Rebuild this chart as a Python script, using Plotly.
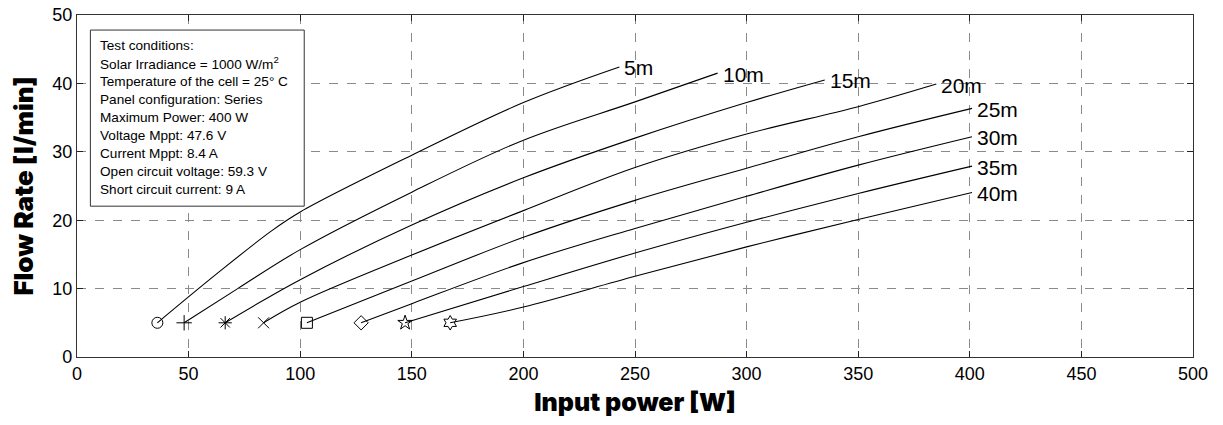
import plotly.graph_objects as go

# ---- data ----
heads = ["5m", "10m", "15m", "20m", "25m", "30m", "35m", "40m"]
symbols = ["circle-open", "cross-thin-open", "asterisk-open", "x-thin-open",
           "square-open", "diamond-open", "star-open", "hexagram-open"]

p_5m = [36, 62, 87, 100, 150, 200, 243]
q_5m = [5, 12.0, 18.4, 21.2, 29.5, 37.2, 42.4]
p_10m = [48, 72, 100, 150, 200, 250, 287]
q_10m = [5, 10, 15.7, 24.1, 31.7, 37.3, 41.5]
p_15m = [66.4, 100, 150, 200, 250, 300, 335]
q_15m = [5, 11.3, 19.3, 26.2, 32.0, 37.2, 40.5]
p_20m = [83.6, 100, 150, 200, 250, 300, 350, 385]
q_20m = [5, 8.0, 14.9, 21.4, 27.7, 32.6, 36.6, 39.9]
p_25m = [103, 150, 200, 250, 300, 350, 401]
q_25m = [5, 11.1, 17.5, 22.9, 27.6, 32.2, 36.35]
p_30m = [127.3, 150, 200, 250, 300, 350, 401]
q_30m = [5, 7.8, 13.8, 18.8, 23.5, 28.05, 32.2]
p_35m = [147, 200, 250, 300, 350, 401]
q_35m = [5, 10.3, 15.2, 19.7, 23.9, 27.9]
p_40m = [167.2, 200, 250, 300, 350, 401]
q_40m = [5, 7.3, 11.8, 16.1, 20.1, 24.05]

powers = [p_5m, p_10m, p_15m, p_20m, p_25m, p_30m, p_35m, p_40m]
flows = [q_5m, q_10m, q_15m, q_20m, q_25m, q_30m, q_35m, q_40m]

x_ticks = [0, 50, 100, 150, 200, 250, 300, 350, 400, 450, 500]
y_ticks = [0, 10, 20, 30, 40, 50]

conditions = [
    "Test conditions:",
    "Solar Irradiance = 1000 W/m<sup>2</sup>",
    "Temperature of the cell = 25° C",
    "Panel configuration: Series",
    "Maximum Power: 400 W",
    "Voltage Mppt: 47.6 V",
    "Current Mppt: 8.4 A",
    "Open circuit voltage: 59.3 V",
    "Short circuit current: 9 A",
]

fig = go.Figure()
for name, sym, xs, ys in zip(heads, symbols, powers, flows):
    fig.add_trace(go.Scatter(
        x=xs, y=ys, mode="lines", name=name,
        line=dict(color="black", width=1.1, shape="spline", smoothing=1.0),
        showlegend=False, hoverinfo="skip"))
    fig.add_trace(go.Scatter(
        x=[xs[0]], y=[ys[0]], mode="markers", name=name,
        marker=dict(symbol=sym, size=11, color="black",
                    line=dict(color="black", width=1)),
        showlegend=False))
    fig.add_annotation(x=xs[-1], y=ys[-1], text=name, showarrow=False,
                       xanchor="left", yanchor="middle", xshift=3, yshift=-1,
                       font=dict(family="Liberation Sans, Arial", size=21, color="black"))

# test-conditions box
fig.add_shape(type="rect", xref="x", yref="y", x0=6, x1=101.8, y0=22.05, y1=47.8,
              line=dict(color="#333333", width=1), fillcolor="white", layer="above")
line_step = 18 / 6.83
for i, t in enumerate(conditions):
    fig.add_annotation(x=9.2, y=47.8 - (15 / 6.83) - i * line_step, text=t,
                       showarrow=False, xanchor="left", yanchor="middle",
                       font=dict(family="Liberation Sans, Arial", size=13.6, color="black"))

axis_common = dict(
    showgrid=True, gridcolor="#8a8a8a", griddash="dash", gridwidth=1,
    showline=True, linecolor="#333333", linewidth=1.2, mirror="allticks",
    ticks="inside", ticklen=6, tickcolor="#222222", zeroline=False,
    automargin=False, ticklabeloverflow="allow",
    tickfont=dict(family="Liberation Sans, Arial", size=18, color="black"),
)

fig.update_layout(
    width=1215, height=417,
    margin=dict(l=69, r=30, t=7, b=68),
    paper_bgcolor="white", plot_bgcolor="white",
    xaxis=dict(range=[0, 500], tickvals=x_ticks, **axis_common,
               title=dict(text="Input power [W]", standoff=10,
                          font=dict(family="Inter, Lato, DejaVu Sans", size=25,
                                    color="black", weight=900))),
    yaxis=dict(range=[0, 50], tickvals=y_ticks, **axis_common,
               title=dict(text="Flow Rate [l/min]", standoff=12,
                          font=dict(family="Inter, Lato, DejaVu Sans", size=26,
                                    color="black", weight=900))),
)

fig.write_html("out.html")
